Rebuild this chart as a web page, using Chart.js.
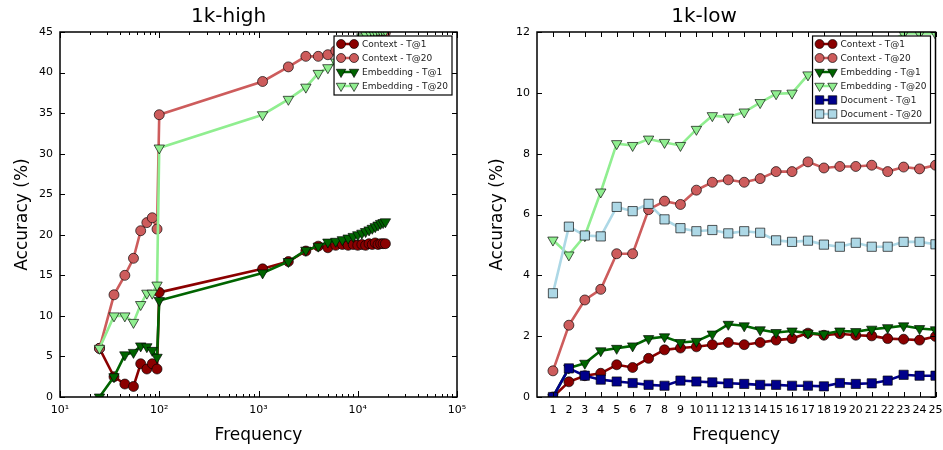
<!DOCTYPE html>
<html>
<head>
<meta charset="utf-8">
<script src="https://cdn.jsdelivr.net/npm/chart.js@4/dist/chart.umd.min.js"></script>
<style>
  body { margin: 0; background: #fff; width: 943px; height: 450px; overflow: hidden; position: relative; }
  canvas { position: absolute; top: 0; }
  #high { left: 0; }
  #low { left: 470px; }
</style>
</head>
<body>
<canvas id="high" width="470" height="450"></canvas>
<canvas id="low" width="473" height="450"></canvas>
<script>
// --- 1k-high (log x) ---
const highFreq = [25, 35, 45, 55, 65, 75, 85, 95, 100,
  1100, 2000, 3000, 4000, 5000, 6000, 7000, 8000, 9000, 10000,
  11000, 12000, 13000, 14000, 15000, 16000, 17000, 18000, 19000];
const ctxT1High = [6.0, 2.5, 1.6, 1.3, 4.1, 3.45, 4.1, 3.45, 12.9,
  15.8, 16.7, 18.0, 18.6, 18.4, 18.7, 18.8, 18.7, 18.8, 18.7,
  18.8, 18.7, 18.9, 18.8, 19.0, 18.8, 18.9, 18.9, 18.9];
const ctxT20High = [6.0, 12.6, 15.0, 17.1, 20.5, 21.5, 22.1, 20.7, 34.8,
  38.9, 40.7, 42.0, 42.0, 42.2, 42.7, 43.0, 43.3, 43.6, 43.9,
  44.1, 44.3, 44.5, 44.6, 44.7, 44.8, 44.85, 44.9, 44.95];
const embT1High = [0, 2.5, 5.2, 5.5, 6.3, 6.2, 5.75, 4.9, 11.9,
  15.3, 16.7, 18.1, 18.6, 19.1, 19.2, 19.4, 19.6, 19.8, 20.0,
  20.2, 20.4, 20.6, 20.8, 21.0, 21.2, 21.4, 21.5, 21.6];
const embT20High = [6.0, 10.0, 10.0, 9.2, 11.4, 12.8, 12.8, 13.8, 30.7,
  34.8, 36.7, 38.2, 39.9, 40.6, 41.3, 42.2, 42.9, 43.5, 44.0,
  44.4, 44.7, 45.0, 45.1, 45.1, 45.2, 45.2, 45.2, 45.2];
const highYTicks = [0, 5, 10, 15, 20, 25, 30, 35, 40, 45];

// --- 1k-low (1..25) ---
const lowFreq = [1, 2, 3, 4, 5, 6, 7, 8, 9, 10, 11, 12, 13, 14, 15, 16, 17, 18, 19, 20, 21, 22, 23, 24, 25];
const ctxT1Low = [0, 0.50, 0.70, 0.78, 1.06, 0.97, 1.27, 1.55, 1.61, 1.65, 1.72, 1.79, 1.72, 1.79, 1.87, 1.92, 2.10, 2.03, 2.08, 2.03, 2.01, 1.92, 1.90, 1.87, 1.99];
const ctxT20Low = [0.86, 2.36, 3.19, 3.54, 4.71, 4.71, 6.16, 6.44, 6.33, 6.80, 7.06, 7.14, 7.06, 7.18, 7.41, 7.41, 7.73, 7.53, 7.58, 7.58, 7.62, 7.41, 7.56, 7.50, 7.62];
const embT1Low = [0, 0.95, 1.11, 1.52, 1.60, 1.68, 1.92, 1.98, 1.79, 1.83, 2.07, 2.39, 2.34, 2.21, 2.12, 2.17, 2.10, 2.07, 2.17, 2.15, 2.23, 2.28, 2.34, 2.25, 2.21];
const embT20Low = [5.16, 4.67, 5.3, 6.74, 8.33, 8.27, 8.48, 8.37, 8.27, 8.80, 9.25, 9.20, 9.37, 9.68, 9.97, 9.99, 10.59, 10.8, 11.0, 11.2, 11.4, 11.6, 11.95, 11.95, 11.95];
const docT1Low = [0, 0.94, 0.70, 0.57, 0.51, 0.46, 0.40, 0.37, 0.54, 0.51, 0.48, 0.45, 0.43, 0.40, 0.40, 0.37, 0.37, 0.35, 0.46, 0.43, 0.45, 0.54, 0.73, 0.70, 0.70];
const docT20Low = [3.41, 5.60, 5.31, 5.28, 6.25, 6.11, 6.35, 5.84, 5.55, 5.45, 5.49, 5.38, 5.45, 5.40, 5.15, 5.10, 5.14, 5.01, 4.94, 5.07, 4.94, 4.94, 5.10, 5.10, 5.02];

const FONT = '"DejaVu Sans", sans-serif';
const EDGE = 'rgba(0,0,0,0.65)';

const styles = {
  'Context - T@1':    { color: '#8b0000', shape: 'circle',   rot: 0,   r: 5 },
  'Context - T@20':   { color: '#cd5c5c', shape: 'circle',   rot: 0,   r: 5 },
  'Embedding - T@1':  { color: '#006400', shape: 'triangle', rot: 180, r: 6 },
  'Embedding - T@20': { color: '#90ee90', shape: 'triangle', rot: 180, r: 6 },
  'Document - T@1':   { color: '#00008b', shape: 'rect',     rot: 0,   r: 6.5 },
  'Document - T@20':  { color: '#add8e6', shape: 'rect',     rot: 0,   r: 6.5 }
};

const makeSet = (label, xs, ys, i, n) => {
  const s = styles[label];
  return {
    label,
    data: xs.map((x, k) => ({ x, y: ys[k] })),
    borderColor: s.color,
    backgroundColor: s.color,
    borderWidth: 2.6,
    pointStyle: s.shape,
    pointRotation: s.rot,
    pointRadius: s.r,
    pointBorderColor: EDGE,
    pointBorderWidth: 1,
    pointBackgroundColor: s.color,
    tension: 0,
    order: n - i
  };
};

// matplotlib style frame, inward ticks and legend box
const mplAxes = {
  id: 'mplAxes',
  afterDatasetsDraw(chart) {
    const { ctx, chartArea: a } = chart;
    const xs = chart.scales.x, ys = chart.scales.y;
    ctx.save();
    ctx.strokeStyle = '#000';
    ctx.lineWidth = 1;
    ctx.beginPath();
    const vtick = (p, len) => {
      p = Math.round(p) + 0.5;
      ctx.moveTo(p, a.bottom); ctx.lineTo(p, a.bottom - len);
      ctx.moveTo(p, a.top); ctx.lineTo(p, a.top + len);
    };
    ys.ticks.forEach(t => {
      const p = Math.round(ys.getPixelForValue(t.value)) + 0.5;
      ctx.moveTo(a.left, p); ctx.lineTo(a.left + 5, p);
      ctx.moveTo(a.right, p); ctx.lineTo(a.right - 5, p);
    });
    if (xs.type === 'logarithmic') {
      for (let e = 1; e <= 5; e++) {
        for (let k = 1; k < 10; k++) {
          const v = k * Math.pow(10, e);
          if (v > xs.max) break;
          vtick(xs.getPixelForValue(v), k === 1 ? 6 : 3);
        }
      }
    } else {
      xs.ticks.forEach(t => vtick(xs.getPixelForValue(t.value), 5));
    }
    ctx.stroke();
    ctx.lineWidth = 1.5;
    ctx.strokeRect(a.left, a.top, a.right - a.left, a.bottom - a.top);
    ctx.restore();
  },
  afterDraw(chart) {
    const { ctx, chartArea: a } = chart;
    const sets = chart.data.datasets;
    const rowH = 14;
    ctx.save();
    ctx.font = '9px ' + FONT;
    const textW = Math.max(...sets.map(d => ctx.measureText(d.label).width));
    const w = 28 + textW + 4;
    const h = sets.length * rowH + 3;
    const x0 = a.right - 5 - w, y0 = a.top + 4;
    ctx.fillStyle = '#fff';
    ctx.fillRect(x0, y0, w, h);
    ctx.strokeStyle = '#000';
    ctx.lineWidth = 1.2;
    ctx.strokeRect(x0, y0, w, h);
    sets.forEach((d, i) => {
      const s = styles[d.label];
      const cy = y0 + 8 + i * rowH;
      const m1 = x0 + 7, m2 = x0 + 20;
      ctx.strokeStyle = s.color;
      ctx.lineWidth = 2.5;
      ctx.beginPath(); ctx.moveTo(m1, cy); ctx.lineTo(m2, cy); ctx.stroke();
      ctx.fillStyle = s.color;
      ctx.strokeStyle = EDGE;
      ctx.lineWidth = 1;
      [m1, m2].forEach(mx => Chart.helpers.drawPoint(ctx, {
        pointStyle: s.shape, rotation: s.rot, radius: s.r - 0.5, borderWidth: 1
      }, mx, cy));
      ctx.fillStyle = '#222';
      ctx.textBaseline = 'middle';
      ctx.fillText(d.label, x0 + 28, cy + 0.5);
    });
    ctx.restore();
  }
};

const supers = { 1: '\u00b9', 2: '\u00b2', 3: '\u00b3', 4: '\u2074', 5: '\u2075' };

const baseOptions = (title, yWidth, yTitlePad, rightPad) => ({
  responsive: false,
  animation: false,
  layout: { padding: { left: 0, right: rightPad, top: 0, bottom: 0 } },
  plugins: {
    legend: { display: false },
    tooltip: { enabled: false },
    title: {
      display: true, text: title, color: '#000',
      font: { family: FONT, size: 20, weight: 'normal' },
      padding: { top: 5, bottom: 3 }
    }
  },
  scales: {
    y: {
      type: 'linear',
      grid: { display: false, drawTicks: false },
      border: { display: false },
      ticks: { font: { family: FONT, size: 11 }, color: '#000', padding: 7 },
      title: {
        display: true, text: 'Accuracy (%)', color: '#000',
        font: { family: FONT, size: 17 }, padding: { top: yTitlePad, bottom: 0 }
      },
      afterFit: s => { s.width = yWidth; s.paddingTop = 0; s.paddingBottom = 0; }
    },
    x: {
      grid: { display: false, drawTicks: false },
      border: { display: false },
      ticks: { font: { family: FONT, size: 11 }, color: '#000', padding: 7, autoSkip: false, maxRotation: 0 },
      title: {
        display: true, text: 'Frequency', color: '#000',
        font: { family: FONT, size: 17 }, padding: { top: 0, bottom: 4 }
      },
      afterFit: s => { s.height = 53; s.paddingLeft = 0; s.paddingRight = 0; }
    }
  }
});

// left chart
const highLabels = ['Context - T@1', 'Context - T@20', 'Embedding - T@1', 'Embedding - T@20'];
const highSeries = [ctxT1High, ctxT20High, embT1High, embT20High];
const highOpts = baseOptions('1k-high', 60, 12, 13);
highOpts.scales.y.min = 0;
highOpts.scales.y.max = 45;
highOpts.scales.y.afterBuildTicks = s => { s.ticks = highYTicks.map(v => ({ value: v })); };
highOpts.scales.x.type = 'logarithmic';
highOpts.scales.x.min = 10;
highOpts.scales.x.max = 100000;
highOpts.scales.x.afterBuildTicks = s => { s.ticks = [10, 100, 1000, 10000, 100000].map(v => ({ value: v })); };
highOpts.scales.x.ticks.callback = v => '10' + supers[Math.round(Math.log10(v))];

new Chart(document.getElementById('high'), {
  type: 'line',
  data: { datasets: highLabels.map((l, i) => makeSet(l, highFreq, highSeries[i], i, highLabels.length)) },
  options: highOpts,
  plugins: [mplAxes]
});

// right chart
const lowLabels = ['Context - T@1', 'Context - T@20', 'Embedding - T@1', 'Embedding - T@20', 'Document - T@1', 'Document - T@20'];
const lowSeries = [ctxT1Low, ctxT20Low, embT1Low, embT20Low, docT1Low, docT20Low];
const lowOpts = baseOptions('1k-low', 67, 17, 5);
lowOpts.scales.y.min = 0;
lowOpts.scales.y.max = 12;
lowOpts.scales.y.ticks.stepSize = 2;
lowOpts.scales.x.type = 'linear';
lowOpts.scales.x.min = 0;
lowOpts.scales.x.max = 25;
lowOpts.scales.x.afterBuildTicks = s => { s.ticks = lowFreq.map(v => ({ value: v })); };

new Chart(document.getElementById('low'), {
  type: 'line',
  data: { datasets: lowLabels.map((l, i) => makeSet(l, lowFreq, lowSeries[i], i, lowLabels.length)) },
  options: lowOpts,
  plugins: [mplAxes]
});
</script>
</body>
</html>
